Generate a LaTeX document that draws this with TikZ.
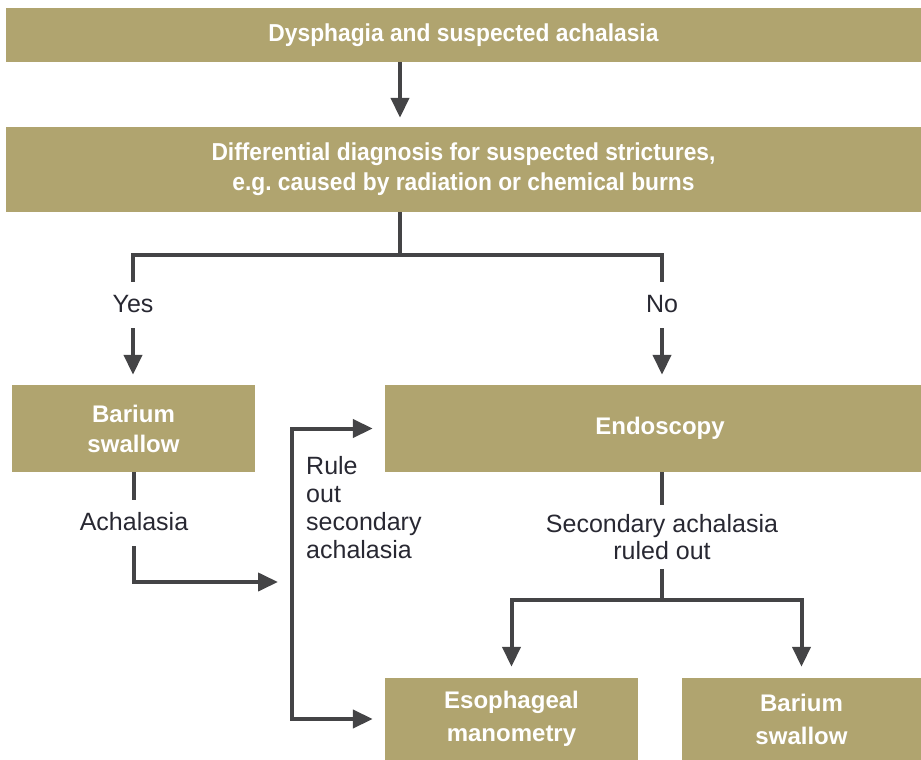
\documentclass[tikz,border=0pt]{standalone}
\usepackage{fontspec}
\setmainfont{Liberation Sans}
\newfontfamily\narrowbold[FakeStretch=0.93]{Liberation Sans Bold}
\usetikzlibrary{arrows.meta, positioning}
\definecolor{khaki}{RGB}{176,164,111}
\definecolor{arrowgrey}{RGB}{68,68,70}
\definecolor{labelink}{RGB}{40,40,50}

\begin{document}
\begin{tikzpicture}[x=1pt, y=-1pt,
    panel/.style={fill=khaki, text=white, inner sep=0pt, align=center,
        font=\fontsize{24}{30}\selectfont\bfseries},
    widepanel/.style={panel, minimum width=915pt,
        font=\fontsize{24.5}{30}\selectfont\narrowbold},
    lbl/.style={text=labelink, inner xsep=2pt, inner ysep=12pt, align=center,
        text height=18pt, text depth=4pt, font=\fontsize{25}{28}\selectfont},
    link/.style={draw=arrowgrey, line width=4pt},
    arrow/.style={link, -{Triangle[length=20pt,width=18pt]}}]
    \useasboundingbox (0,0) rectangle (921,760);

    % boxes
    \node (dysph) at (463.5,35) [widepanel, minimum height=54pt]{Dysphagia and suspected achalasia};
    \node (diff) at (463.5,169.5) [widepanel, minimum height=85pt]{Differential diagnosis for suspected strictures,\\
        e.g.\ caused by radiation or chemical burns};
    \node (barL) at (133.5,428.5) [panel, minimum width=243pt, minimum height=87pt]{Barium\\swallow};
    \node (endo) at (653,428.5) [panel, minimum width=536pt, minimum height=87pt]{\hspace{14pt}Endoscopy};
    \node (mano) at (511.5,719) [panel, minimum width=253pt, minimum height=82pt,
        font=\fontsize{24}{33}\selectfont\bfseries]{Esophageal\\manometry};
    \node (barR) at (801.5,719) [panel, minimum width=239pt, minimum height=82pt,
        font=\fontsize{24}{33}\selectfont\bfseries]{Barium\\swallow};

    % labels
    \node (yes) at (133,305) [lbl]{Yes};
    \node (no) at (662,305) [lbl]{No};
    \node (achal) at (134,523) [lbl]{Achalasia};
    \node (sec) at (662,537) [text=labelink, inner ysep=9pt, align=center,
        font=\fontsize{25}{27}\selectfont]{Secondary achalasia\\ruled out};
    \node (ruletxt) at (306,456) [anchor=north west, text=labelink, inner sep=0pt, align=left,
        font=\fontsize{25}{28}\selectfont]{Rule\\out\\secondary\\achalasia};

    \coordinate (drop) at (400,0);
    \coordinate (branch) at (400,255);
    \coordinate (rulein) at (292,582);
    \coordinate (fork) at (662,600);

    % connectors
    \draw [arrow, shorten >=9pt] (drop |- dysph.south) -- (drop |- diff.north);
    \draw [link] (drop |- diff.south) -- (branch);
    \draw [link] (yes.north) -- (yes.north |- branch) -- (no.north |- branch) -- (no.north);
    \draw [arrow, shorten >=10pt] (yes.south) -- (yes.south |- barL.north);
    \draw [arrow, shorten >=10pt] (no.south) -- (no.south |- endo.north);

    \draw [link] (achal |- barL.south) -- (achal.north);
    \draw [arrow, shorten >=14pt] (achal.south) |- (rulein);
    \draw [arrow, shorten >=12pt] (rulein) |- (endo.west);
    \draw [arrow, shorten >=12pt] (rulein) |- (mano.west);

    \draw [link] (no |- endo.south) -- (sec.north);
    \draw [link] (sec.south) -- (fork);
\foreach \target in {mano, barR}
{
    \draw [arrow, shorten >=11pt] (fork) -| (\target.north);
}
\end{tikzpicture}
\end{document}
